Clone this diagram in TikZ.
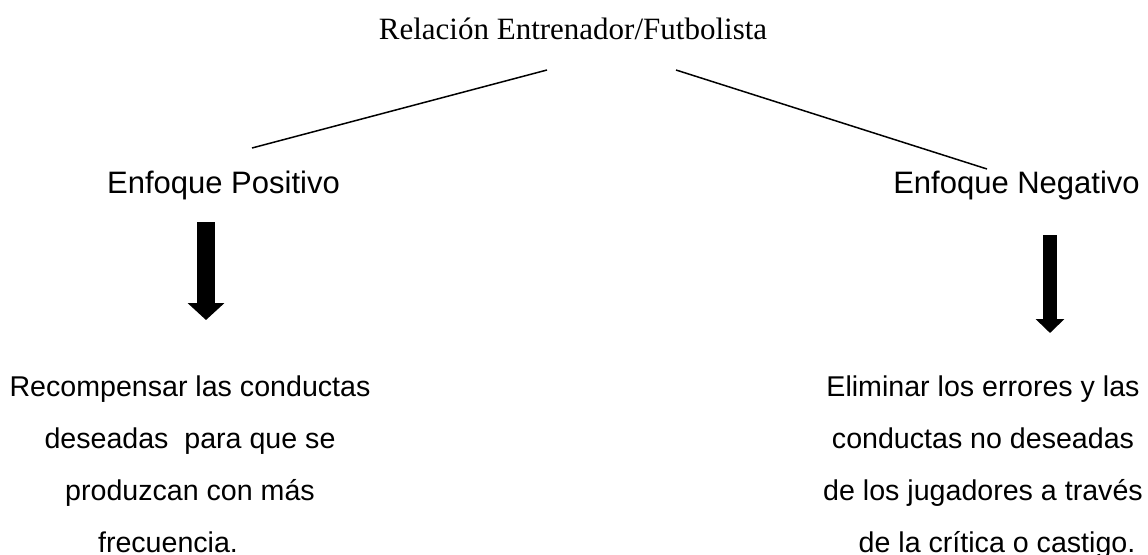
\documentclass[tikz,border=0pt]{standalone}
\usepackage{fontspec}
\setmainfont{Liberation Serif}
\newfontfamily\arial{Liberation Sans}
\usetikzlibrary{arrows.meta}

\begin{document}
\begin{tikzpicture}[x=1pt,y=-1pt,
        titulo/.style={font=\fontsize{31}{36}\selectfont, inner sep=0pt},
        enfoque/.style={font=\arial\fontsize{31}{36}\selectfont, inner sep=0pt},
        texto/.style={font=\arial\fontsize{28.6}{51.7}\selectfont, align=center, inner sep=0pt},
        rama/.style={line width=1.5pt},
        flecha/.style={-{Triangle[width=36pt,length=17pt]}, line width=18pt},
        flechita/.style={-{Triangle[width=28pt,length=14pt]}, line width=14pt}]
    \useasboundingbox (0,0) rectangle (1148,554);
    \node[titulo, anchor=base] (rel) at (573,39) {Relación Entrenador/Futbolista};
    \node[enfoque, anchor=base] (pos) at (223.5,193) {Enfoque Positivo};
    \node[enfoque, anchor=base] (neg) at (1016.5,193) {Enfoque Negativo};
    \node[texto, anchor=base] (recompensa) at (190,552)
        {Recompensar las conductas\\deseadas \ para que se\\produzcan con más\\frecuencia.\hspace*{44pt}};
    \node[texto, anchor=base] (eliminar) at (983,552)
        {Eliminar los errores y las\\conductas no deseadas\\de los jugadores a través\\\hspace*{28pt}de la crítica o castigo.};
    \coordinate (rel-izq) at (547,70);
    \coordinate (rel-der) at (676,70);
    \coordinate (pos-sup) at (252,148);
    \coordinate (neg-sup) at (987,169);
    \coordinate (pos-ini) at (206,222);
    \coordinate (pos-fin) at (206,320);
    \coordinate (neg-ini) at (1050,235);
    \coordinate (neg-fin) at (1050,333);
    \draw[rama] (rel-izq) -- (pos-sup);
    \draw[rama] (rel-der) -- (neg-sup);
    \draw[flecha] (pos-ini) -- (pos-fin);
    \draw[flechita] (neg-ini) -- (neg-fin);
\end{tikzpicture}
\end{document}
